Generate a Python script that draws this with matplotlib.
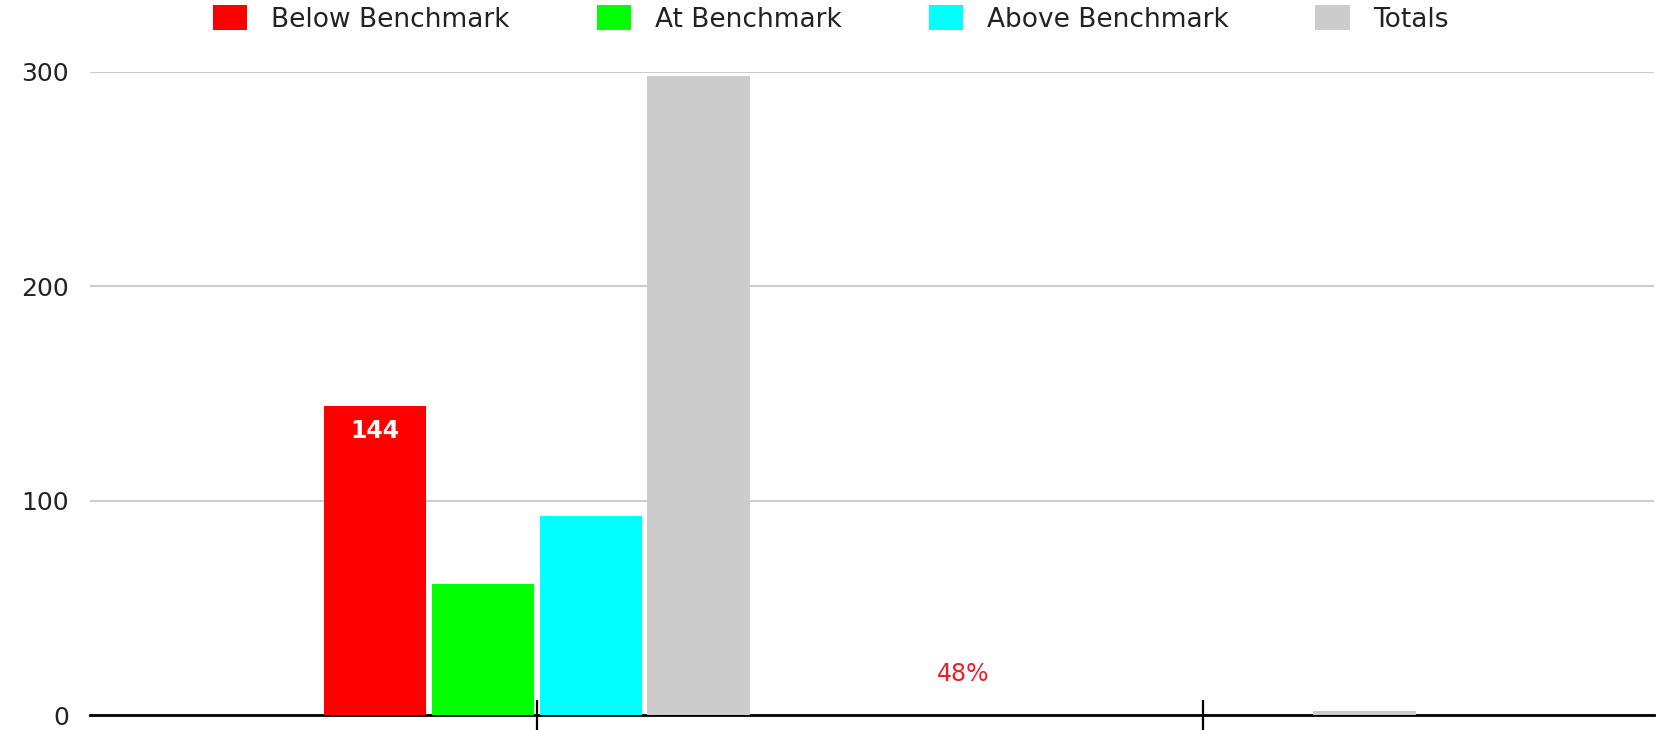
import matplotlib
matplotlib.use("Agg")
import matplotlib.pyplot as plt
import numpy as np

plt.rcParams['font.family'] = ['DejaVu Sans']

groups = ["Group 1", "Group 2"]
series = ["Below Benchmark", "At Benchmark", "Above Benchmark", "Totals"]
below = [144, 0]
at = [61, 0]
above = [93, 0]
totals = [298, 2]
colors = ["#ff0000", "#00ff00", "#00ffff", "#cccccc"]
y_ticks = [0, 100, 200, 300]

values = [below, at, above, totals]

fig = plt.figure(figsize=(16.57, 7.30), dpi=100)
ax = fig.add_axes([0.0543, 0.0205, 0.9437, 0.8809])

x = np.arange(len(groups))
pitch = 0.162
width = 0.154
handles = []
for i, (name, vals, col) in enumerate(zip(series, values, colors)):
    offset = (i - 1.5) * pitch
    bars = ax.bar(x + offset, vals, width, color=col, label=name, zorder=6)
    handles.append(bars)

# value label inside the first red bar
ax.annotate(str(below[0]), xy=(x[0] - 1.5 * pitch, below[0]), xytext=(0, -9),
            textcoords="offset points", ha="center", va="top",
            color="white", fontsize=17, fontweight="bold", zorder=7)

# share of below benchmark in totals
pct = round(below[0] / totals[0] * 100)
ax.text(0.64, 19, f"{pct}%", color="#e8202a", fontsize=17,
        ha="center", va="center", zorder=7)

ax.set_xlim(-0.671, 1.677)
ax.set_ylim(0, 300)
ax.set_yticks(y_ticks)
ax.set_yticklabels([str(v) for v in y_ticks])
ax.set_xticks(x)
ax.set_xticklabels([])

ax.grid(axis="y", color="#cccccc", linewidth=1.5, zorder=0)
ax.set_axisbelow(True)
for s in ["top", "right", "left"]:
    ax.spines[s].set_visible(False)
ax.spines["bottom"].set_color("black")
ax.spines["bottom"].set_linewidth(2)
ax.spines["bottom"].set_zorder(5)

ax.tick_params(axis="y", length=0, pad=15, labelsize=18, labelcolor="#222222")
ax.tick_params(axis="x", direction="inout", length=22, width=1.6, color="black")

fig.legend(handles=handles, labels=series, loc="center", ncol=4,
           bbox_to_anchor=(0.5015, 0.974), frameon=False, fontsize=19,
           handlelength=1.3, handleheight=1.1, handletextpad=0.9,
           columnspacing=3.3, labelcolor="#222222")

fig.savefig("out.png", dpi=100)
